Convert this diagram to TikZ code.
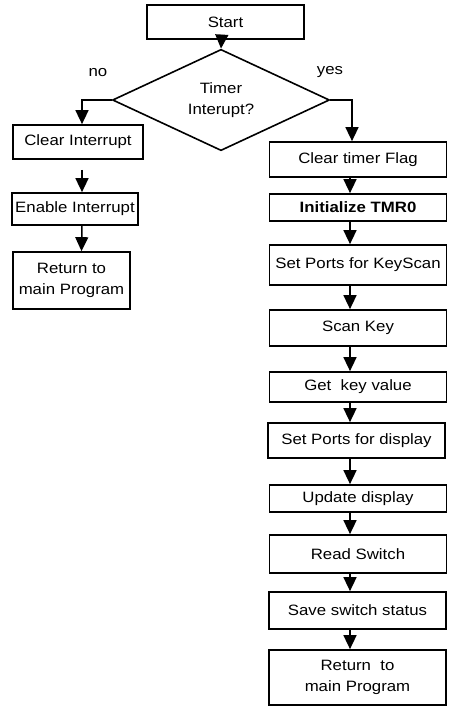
\documentclass[tikz,border=0pt]{standalone}
\usepackage{fontspec}
\setmainfont{Liberation Sans}[FakeStretch=1.12]
\usetikzlibrary{
    arrows.meta,
    shapes.geometric % to use \node[diamond]
}

\begin{document}
\begin{tikzpicture} [x=1pt, y=-1pt,
    every node/.style={font=\fontsize{15}{21}\selectfont},
    proc/.style={rectangle,draw=black,line width=1.7pt,align=center,
                  inner sep=0pt,minimum width=177pt},
    decision/.style={diamond,draw=black,line width=1.6pt,align=center,
                  inner sep=0pt,minimum width=217pt,minimum height=75pt},
    flow/.style={-{Triangle[length=14pt,width=13pt]},line width=1.5pt}
]
    \useasboundingbox (0,0) rectangle (450,706);

    \node[proc, minimum width=157pt, minimum height=34pt] (start) at (225.5,22) {Start};
    \node[decision]   (timer int)  at (221,100) {Timer\\Interupt?};
    \node at (98,73)  (no label)  {no};
    \node at (330,72) (yes label) {yes};

    % interrupt not from timer
    \node[proc, minimum width=130pt, minimum height=34pt] (clear int)  at (78,142)   {Clear Interrupt};
    \node[proc, minimum width=126pt, minimum height=32pt] (enable int) at (75,209)   {Enable Interrupt};
    \node[proc, minimum width=117pt, minimum height=57pt] (return l)   at (71.5,280.5) {Return to\\main Program};

    % timer interrupt
    \node[proc, minimum height=35pt] (clear flag) at (358,159.5) {Clear timer Flag};
    \node[proc, minimum height=27pt] (init tmr)   at (358,207.5) {\bfseries Initialize TMR0};
    \node[proc, minimum height=40pt] (ports key)  at (358,265)   {Set Ports for KeyScan};
    \node[proc, minimum height=36pt] (scan key)   at (358,328)   {Scan Key};
    \node[proc, minimum height=30pt] (get key)    at (358,387)   {Get~ key value};
    \node[proc, minimum height=35pt] (ports disp) at (356.5,440.5) {Set Ports for display};
    \node[proc, minimum height=27pt] (update)     at (358,498.5) {Update display};
    \node[proc, minimum height=38pt] (read sw)    at (358,554)   {Read Switch};
    \node[proc, minimum height=37pt] (save sw)    at (357.5,610.5) {Save switch status};
    \node[proc, minimum height=55pt] (return r)   at (357.5,677.5) {Return~ to\\main Program};

    \draw[flow] ([xshift=-4pt]start.south) -- (timer int.north);
    \draw[flow] (timer int.west) -| ([xshift=4pt]clear int.north);
    \draw[flow] (timer int.east) -| ([xshift=-6pt]clear flag.north);

    \draw[flow, shorten <=10pt] ([xshift=4pt]clear int.south) -- ([xshift=7pt]enable int.north);
    \draw[flow] ([xshift=7pt]enable int.south) -- ([xshift=10pt]return l.north);

    \draw[flow] ([xshift=-8pt]clear flag.south) -- ([xshift=-8pt]init tmr.north);
    \draw[flow] ([xshift=-8pt]init tmr.south)   -- ([xshift=-8pt]ports key.north);
    \draw[flow] ([xshift=-8pt]ports key.south)  -- ([xshift=-8pt]scan key.north);
    \draw[flow] ([xshift=-8pt]scan key.south)   -- ([xshift=-8pt]get key.north);
    \draw[flow] ([xshift=-8pt]get key.south)    -- ([xshift=-6.5pt]ports disp.north);
    \draw[flow] ([xshift=-6.5pt]ports disp.south) -- ([xshift=-8pt]update.north);
    \draw[flow] ([xshift=-8pt]update.south)     -- ([xshift=-8pt]read sw.north);
    \draw[flow] ([xshift=-8pt]read sw.south)    -- ([xshift=-7.5pt]save sw.north);
    \draw[flow] ([xshift=-7.5pt]save sw.south)  -- ([xshift=-7.5pt]return r.north);
\end{tikzpicture}
\end{document}
